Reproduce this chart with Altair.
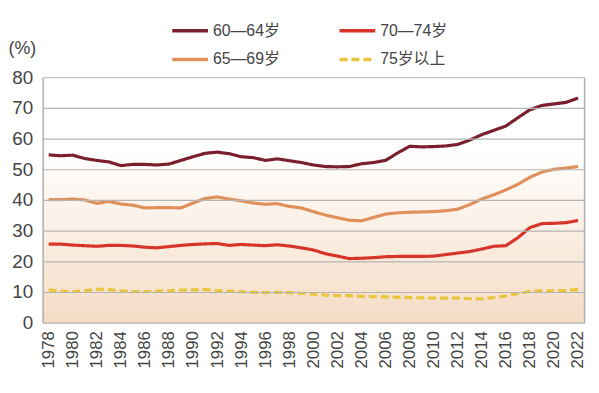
import altair as alt
import pandas as pd

years = list(range(1978, 2023))
series_names = ["60—64岁", "65—69岁", "70—74岁", "75岁以上"]
s6064 = [54.7, 54.4, 54.6, 53.5, 52.9, 52.4, 51.2, 51.6, 51.6, 51.4, 51.7, 52.9, 54.1, 55.2, 55.6,
         55.1, 54.1, 53.8, 52.9, 53.4, 52.8, 52.2, 51.4, 50.9, 50.8, 50.9, 51.8, 52.2, 52.9,
         55.3, 57.5, 57.3, 57.4, 57.6, 58.1, 59.5, 61.3, 62.7, 64.1, 66.8, 69.4, 70.8, 71.3, 71.8, 73.2]
s6569 = [40.1, 40.1, 40.3, 40.0, 38.9, 39.5, 38.7, 38.3, 37.4, 37.5, 37.5, 37.4, 39.0, 40.5, 41.0,
         40.3, 39.7, 39.0, 38.6, 38.8, 37.9, 37.4, 36.2, 35.1, 34.2, 33.4, 33.2, 34.3, 35.4,
         35.8, 36.0, 36.1, 36.2, 36.5, 37.0, 38.5, 40.3, 41.7, 43.3, 45.1, 47.4, 49.1, 50.0, 50.4, 50.9]
s7074 = [25.6, 25.6, 25.3, 25.1, 24.9, 25.2, 25.2, 25.0, 24.6, 24.4, 24.8, 25.2, 25.5, 25.7, 25.8,
         25.2, 25.5, 25.3, 25.1, 25.4, 25.0, 24.4, 23.7, 22.5, 21.7, 20.9, 21.0, 21.2, 21.5,
         21.6, 21.6, 21.6, 21.7, 22.2, 22.7, 23.2, 24.0, 24.9, 25.1, 27.7, 31.0, 32.3, 32.4, 32.6, 33.3]
s75 = [10.7, 10.3, 10.1, 10.4, 10.9, 10.8, 10.4, 10.2, 10.1, 10.3, 10.4, 10.6, 10.7, 10.8, 10.5,
       10.3, 10.1, 9.9, 9.8, 9.9, 9.8, 9.6, 9.3, 9.0, 8.8, 8.8, 8.6, 8.5, 8.4,
       8.3, 8.2, 8.1, 8.0, 8.0, 8.0, 7.8, 7.8, 8.2, 8.7, 9.5, 10.2, 10.4, 10.4, 10.5, 10.8]
y_ticks = [0, 10, 20, 30, 40, 50, 60, 70, 80]
x_ticks = list(range(1978, 2023, 2))
x_edges = [1977.5, 2022.5]

colors = ["#7a1f2e", "#e0915b", "#d8352a", "#e8c53a"]
dashes = [[1, 0], [1, 0], [1, 0], [8, 4]]

rows = []
for name, vals in zip(series_names, [s6064, s6569, s7074, s75]):
    for yr, v in zip(years, vals):
        rows.append({"year": yr, "value": v, "series": name})
df = pd.DataFrame(rows)

W, H = 547, 248
FONT = "Liberation Sans, Noto Sans CJK SC"

xscale = alt.Scale(domain=x_edges, nice=False)
yscale = alt.Scale(domain=[0, 80], nice=False)

bg = alt.Chart(alt.Data(values=[{"a": 1}])).mark_rect(
    fill=alt.LinearGradient(
        gradient="linear",
        stops=[alt.GradientStop(color="#ffffff", offset=0),
               alt.GradientStop(color="#ffffff", offset=0.3),
               alt.GradientStop(color="#f5dcc5", offset=1)],
        x1=0, x2=0, y1=0, y2=1),
).encode(x=alt.value(0), x2=alt.value(W), y=alt.value(0), y2=alt.value(H))

legend = alt.Legend(title=None, orient="none", legendX=129, legendY=-67,
                    columns=2, columnPadding=52, rowPadding=1,
                    symbolType="stroke", symbolSize=1300,
                    symbolStrokeWidth=3.5, labelFontSize=16,
                    labelColor="#444", labelOffset=3)

edge_test = "datum.value < 1977.6 || datum.value > 2022.4"

lines = alt.Chart(df).mark_line(strokeWidth=3.2).encode(
    x=alt.X("year:Q", scale=xscale,
            axis=alt.Axis(values=x_edges[:1] + x_ticks + x_edges[1:], format="d",
                          labelExpr=f"({edge_test}) ? '' : datum.label",
                          labelAngle=270, grid=True, gridColor="#b0b0b0", gridWidth=1.5,
                          gridOpacity={"condition": {"test": edge_test, "value": 1}, "value": 0},
                          zindex=1,
                          ticks=False, domain=False, labelFontSize=17, labelColor="#444",
                          labelPadding=8, labelOverlap=False, title=None)),
    y=alt.Y("value:Q", scale=yscale,
            axis=alt.Axis(values=y_ticks, grid=True, gridColor="#b4b4b4", gridWidth=1.2,
                          zindex=1, ticks=False, domain=False,
                          labelFontSize=19, labelColor="#444", labelPadding=10,
                          labelOverlap=False,
                          title="(%)", titleAngle=0, titleAlign="left", titleBaseline="middle",
                          titleX=-35, titleY=-29, titleFontSize=18, titleFontWeight="normal",
                          titleColor="#444")),
    color=alt.Color("series:N", scale=alt.Scale(domain=series_names, range=colors),
                    legend=legend),
    strokeDash=alt.StrokeDash("series:N", scale=alt.Scale(domain=series_names, range=dashes),
                              legend=legend),
    detail="series:N",
)

chart = alt.layer(bg, lines).properties(
    width=W, height=H,
    autosize=alt.AutoSizeParams(type="none"),
    padding={"left": 35, "top": 68, "right": 7, "bottom": 62},
    background="white",
).configure_view(stroke="#b0b0b0", strokeWidth=1.5).configure(
    font=FONT
)

chart.save("out.html", embed_options={"renderer": "svg", "actions": False})
